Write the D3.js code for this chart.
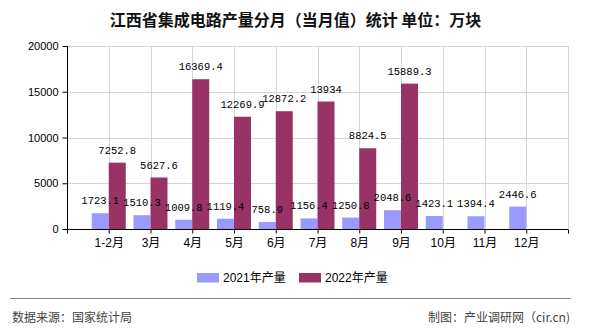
<!DOCTYPE html>
<html><head><meta charset="utf-8">
<script src="https://cdn.jsdelivr.net/npm/d3@7"></script>
<style>body{margin:0;background:#fff}svg{display:block}</style>
</head><body>
<script>
const categories = ["1-2月","3月","4月","5月","6月","7月","8月","9月","10月","11月","12月"];
const values2021 = [1723.1,1510.3,1009.8,1119.4,758.9,1156.4,1250.8,2048.6,1423.1,1394.4,2446.6];
const values2022 = [7252.8,5627.6,16369.4,12269.9,12872.2,13934,8824.5,15889.3,null,null,null];
const yTicks = [0,5000,10000,15000,20000];
const seriesNames = ["2021年产量","2022年产量"];
const colors = ["#9999FF","#993366"];

const W=590,H=330;
const svg=d3.select("body").append("svg").attr("width",W).attr("height",H);
const L=67,R=568,T=46,B=229;
const x=d3.scaleLinear().domain([0,12]).range([L,R]);
const y=d3.scaleLinear().domain([0,20000]).range([B,T]);
const bw=17;
const cjk='"Liberation Sans","Noto Sans CJK SC",sans-serif';

svg.append("text").attr("x",295.5).attr("y",26).attr("text-anchor","middle")
  .style("font-family",'"Noto Sans CJK SC",sans-serif').style("font-size","16px").style("font-weight","bold")
  .attr("fill","#111").text("江西省集成电路产量分月（当月值）统计 单位：万块");

// grid
const g=svg.append("g");
g.selectAll(".hg").data(yTicks.filter(d=>d>0)).enter().append("line")
  .attr("x1",L).attr("x2",R).attr("y1",d=>Math.round(y(d))+0.5).attr("y2",d=>Math.round(y(d))+0.5)
  .attr("stroke","#d4d4d4");
g.selectAll(".vg").data(d3.range(1,13)).enter().append("line")
  .attr("x1",d=>Math.round(x(d))+0.5).attr("x2",d=>Math.round(x(d))+0.5).attr("y1",T).attr("y2",B)
  .attr("stroke","#d4d4d4");

// bars
const idx=d3.range(categories.length);
svg.selectAll(".b1").data(idx).enter().append("rect")
  .attr("x",i=>x(i+1)-bw).attr("width",bw)
  .attr("y",i=>y(values2021[i])).attr("height",i=>B-y(values2021[i])).attr("fill",colors[0]);
svg.selectAll(".b2").data(idx.filter(i=>values2022[i]!=null)).enter().append("rect")
  .attr("x",i=>x(i+1)).attr("width",bw)
  .attr("y",i=>y(values2022[i])).attr("height",i=>B-y(values2022[i])).attr("fill",colors[1]);

// axes
const yAxis=d3.axisLeft(y).tickValues(yTicks).tickSize(5).tickPadding(4).tickFormat(d3.format("d"));
const ya=svg.append("g").attr("transform",`translate(${L+0.5},0)`).call(yAxis);
ya.select(".domain").attr("d",`M0,${T}V${B}`).attr("stroke","#000");
ya.selectAll(".tick line").attr("stroke","#000");
ya.selectAll("text").style("font-family",'"Liberation Sans",sans-serif').style("font-size","11px").attr("fill","#000");

const xAxis=d3.axisBottom(x).tickValues(d3.range(0,13)).tickSize(4).tickFormat(d=>(d>=1&&d<=11)?categories[d-1]:"").tickPadding(5);
const xa=svg.append("g").attr("transform",`translate(0,${B+0.5})`).call(xAxis);
xa.select(".domain").attr("d",`M${L},0H${R}`).attr("stroke","#000");
xa.selectAll(".tick line").attr("stroke","#000");
xa.selectAll("text").style("font-family",cjk).style("font-size","12px").attr("fill","#000");

// labels
const lf='"Liberation Mono",monospace';
svg.selectAll(".l1").data(idx).enter().append("text")
  .attr("x",i=>x(i+1)-bw/2).attr("y",i=>y(values2021[i])-9).attr("text-anchor","middle")
  .style("font-family",lf).style("font-size","10.5px").attr("fill","#000")
  .text(i=>values2021[i]);
svg.selectAll(".l2").data(idx.filter(i=>values2022[i]!=null)).enter().append("text")
  .attr("x",i=>x(i+1)+bw/2).attr("y",i=>y(values2022[i])-9).attr("text-anchor","middle")
  .style("font-family",lf).style("font-size","10.5px").attr("fill","#000")
  .text(i=>values2022[i]);

// legend
const lg=[{x:197,tx:223},{x:299,tx:325}];
seriesNames.forEach((n,k)=>{
  svg.append("rect").attr("x",lg[k].x).attr("y",273).attr("width",22).attr("height",9.5).attr("fill",colors[k]);
  svg.append("text").attr("x",lg[k].tx).attr("y",282).style("font-family",cjk).style("font-size","12px").attr("fill","#000").text(n);
});

svg.append("line").attr("x1",10).attr("x2",571).attr("y1",298.5).attr("y2",298.5).attr("stroke","#888");
svg.append("text").attr("x",12).attr("y",322).style("font-family",'"Noto Sans CJK SC",sans-serif').style("font-size","12px").attr("fill","#444").text("数据来源：国家统计局");
svg.append("text").attr("x",570).attr("y",322).attr("text-anchor","end").style("font-family",'"Noto Sans CJK SC",sans-serif').style("font-size","12px").attr("fill","#444").text("制图：产业调研网（cir.cn)");
</script>
</body></html>
